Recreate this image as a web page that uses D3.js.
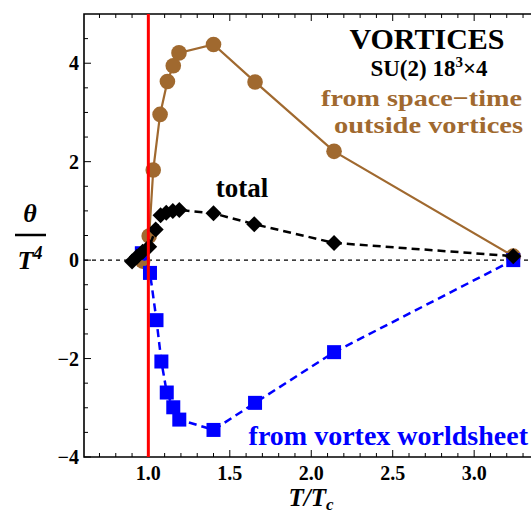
<!DOCTYPE html>
<html><head><meta charset="utf-8">
<script src="https://cdn.jsdelivr.net/npm/d3@7/dist/d3.min.js"></script>
<style>
html,body{margin:0;padding:0;background:#fff;}
svg{display:block;}
text{font-family:"Liberation Serif","Times New Roman",serif;font-weight:bold;}
</style></head>
<body>
<svg id="c" width="531" height="516"></svg>
<script>
// Data
const tTotal = [0.90, 0.93, 0.965, 1.005, 1.045, 1.075, 1.11, 1.15, 1.19, 1.40, 1.65, 2.14, 3.24];
const total  = [-0.03, 0.07, 0.17, 0.27, 0.62, 0.91, 0.96, 1.00, 1.02, 0.95, 0.73, 0.35, 0.08];
const tSpace = [0.965, 1.005, 1.03, 1.072, 1.117, 1.153, 1.188, 1.40, 1.655, 2.14, 3.24];
const space  = [-0.02, 0.49, 1.83, 2.96, 3.63, 3.95, 4.21, 4.38, 3.62, 2.21, 0.08];
const tVortex = [0.96, 1.01, 1.05, 1.08, 1.113, 1.153, 1.19, 1.40, 1.655, 2.14, 3.24];
const vortex  = [0.14, -0.26, -1.22, -2.06, -2.69, -2.99, -3.24, -3.45, -2.90, -1.87, 0.0];
const xMajor = [1.0, 1.5, 2.0, 2.5, 3.0];
const xMajorLabels = ["1.0", "1.5", "2.0", "2.5", "3.0"];
const yMajor = [-4, -2, 0, 2, 4];
const yMajorLabels = ["\u22124", "\u22122", "0", "2", "4"];
const tc = 1.0;

const svg = d3.select("#c");
const L = 84, R = 532, T = 14, B = 457;
const x = d3.scaleLinear().domain([0.605, 3.355]).range([L, R]);
const y = d3.scaleLinear().domain([-4, 5]).range([B, T]);

const brown = "#a0692f", blue = "#0000ff";

// zero dotted line
svg.append("line").attr("x1", L).attr("x2", R).attr("y1", y(0)).attr("y2", y(0))
  .attr("stroke", "#000").attr("stroke-width", 1.3).attr("stroke-dasharray", "4,4");

// frame ticks
const xMinor = d3.range(7, 34).map(d => d / 10).filter(v => Math.abs(v * 2 - Math.round(v * 2)) > 1e-6);
const yMinor = d3.range(-8, 10).map(d => d / 2).filter(v => !yMajor.includes(v) && v > -4 && v < 5);
const tk = svg.append("g").attr("stroke", "#000").attr("stroke-width", 1);
xMajor.forEach(v => {
  tk.append("line").attr("x1", x(v)).attr("x2", x(v)).attr("y1", B).attr("y2", B - 7);
  tk.append("line").attr("x1", x(v)).attr("x2", x(v)).attr("y1", T).attr("y2", T + 7);
});
xMinor.forEach(v => {
  tk.append("line").attr("x1", x(v)).attr("x2", x(v)).attr("y1", B).attr("y2", B - 4);
  tk.append("line").attr("x1", x(v)).attr("x2", x(v)).attr("y1", T).attr("y2", T + 4);
});
yMajor.forEach(v => {
  tk.append("line").attr("x1", L).attr("x2", L + 7).attr("y1", y(v)).attr("y2", y(v));
});
yMinor.forEach(v => {
  tk.append("line").attr("x1", L).attr("x2", L + 4).attr("y1", y(v)).attr("y2", y(v));
});

// frame
svg.append("path").attr("d", `M${R},${T}H${L}V${B}H${R}`).attr("fill", "none")
  .attr("stroke", "#000").attr("stroke-width", 1.6);

// tick labels
xMajor.forEach((v, i) => {
  svg.append("text").attr("x", x(v)).attr("y", 480).attr("text-anchor", "middle")
    .attr("font-size", 20).text(xMajorLabels[i]);
});
yMajor.forEach((v, i) => {
  svg.append("text").attr("x", 79).attr("y", y(v) + 7).attr("text-anchor", "end")
    .attr("font-size", 20).text(yMajorLabels[i]);
});

// axis labels
svg.append("text").attr("x", 311).attr("y", 506).attr("text-anchor", "middle")
  .attr("font-size", 25).attr("font-style", "italic")
  .html('T/T<tspan font-size="17" dy="4">c</tspan>');
svg.append("text").attr("x", 30).attr("y", 222).attr("text-anchor", "middle")
  .attr("font-size", 26).attr("font-style", "italic").text("\u03b8");
svg.append("line").attr("x1", 15).attr("x2", 46).attr("y1", 235).attr("y2", 235)
  .attr("stroke", "#000").attr("stroke-width", 2.5);
svg.append("text").attr("x", 30).attr("y", 269).attr("text-anchor", "middle")
  .attr("font-size", 26).attr("font-style", "italic")
  .html('T<tspan font-size="18" dy="-10">4</tspan>');

const line = (ts, vs) => d3.line().x((d, i) => x(ts[i])).y(d => y(d))(vs);

// space-time (brown)
svg.append("path").attr("d", line(tSpace, space)).attr("fill", "none")
  .attr("stroke", brown).attr("stroke-width", 2.2);
svg.append("g").selectAll("circle").data(space).join("circle")
  .attr("cx", (d, i) => x(tSpace[i])).attr("cy", d => y(d)).attr("r", 7.8).attr("fill", brown);

// vortex (blue)
svg.append("path").attr("d", line(tVortex, vortex)).attr("fill", "none")
  .attr("stroke", blue).attr("stroke-width", 2.5).attr("stroke-dasharray", "8,5");
svg.append("g").selectAll("rect").data(vortex).join("rect")
  .attr("x", (d, i) => x(tVortex[i]) - 7).attr("y", d => y(d) - 7)
  .attr("width", 14).attr("height", 14).attr("fill", blue);

// total (black)
svg.append("path").attr("d", line(tTotal, total)).attr("fill", "none")
  .attr("stroke", "#000").attr("stroke-width", 2.5).attr("stroke-dasharray", "8,5");
svg.append("g").selectAll("path.d").data(total).join("path")
  .attr("d", (d, i) => { const cx = x(tTotal[i]), cy = y(d), s = 8;
    return `M${cx},${cy - s}L${cx + s},${cy}L${cx},${cy + s}L${cx - s},${cy}Z`; })
  .attr("fill", "#000");

// Tc line
svg.append("line").attr("x1", x(tc)).attr("x2", x(tc)).attr("y1", T).attr("y2", B)
  .attr("stroke", "#ff0000").attr("stroke-width", 3);

// annotations
svg.append("text").attr("x", 427).attr("y", 49).attr("text-anchor", "middle")
  .attr("font-size", 30).text("VORTICES");
svg.append("text").attr("x", 429).attr("y", 76).attr("text-anchor", "middle")
  .attr("font-size", 23)
  .html('SU(2) 18<tspan font-size="15" dy="-9">3</tspan><tspan dy="9">\u00d74</tspan>');
svg.append("text").attr("x", 321).attr("y", 106).attr("font-size", 24).attr("fill", brown)
  .attr("textLength", 201).attr("lengthAdjust", "spacingAndGlyphs").text("from space\u2212time");
svg.append("text").attr("x", 334).attr("y", 133).attr("font-size", 24).attr("fill", brown)
  .attr("textLength", 189).attr("lengthAdjust", "spacingAndGlyphs").text("outside vortices");
svg.append("text").attr("x", 242).attr("y", 197).attr("text-anchor", "middle")
  .attr("font-size", 27).text("total");
svg.append("text").attr("x", 528).attr("y", 445).attr("text-anchor", "end")
  .attr("font-size", 28).attr("fill", blue).text("from vortex worldsheet");
</script>
</body></html>
